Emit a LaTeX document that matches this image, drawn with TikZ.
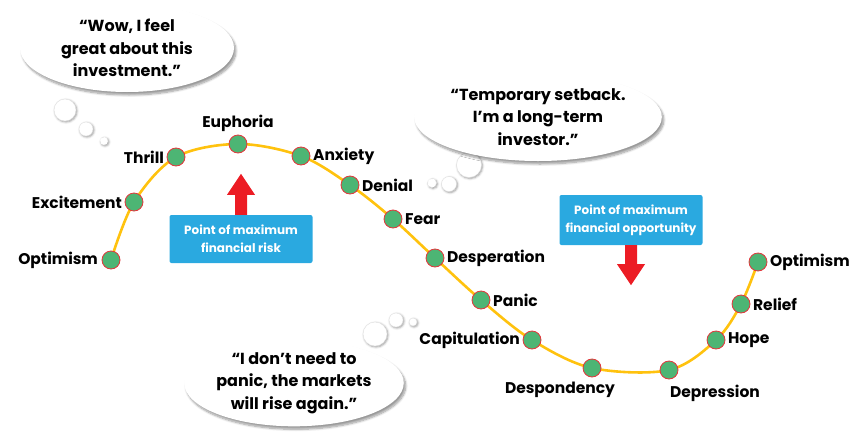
\documentclass[tikz,border=0pt]{standalone}
\usepackage{fontspec}
\setmainfont{Poppins}
\usetikzlibrary{positioning,shapes.geometric,shadows.blur}
\definecolor{curveyellow}{HTML}{FFC20E}
\definecolor{dotgreen}{HTML}{4DB574}
\definecolor{dotred}{HTML}{E5343A}
\definecolor{boxblue}{HTML}{2AA9E0}
\definecolor{arrowred}{HTML}{EC1C24}

\begin{document}
\begin{tikzpicture}[x=1pt,y=-1pt,
    dot/.style = {circle, draw=dotred, line width=0.8pt, fill=dotgreen, minimum size=18pt, inner sep=0pt},
    lbl/.style = {font=\bfseries\fontsize{15.5}{18}\selectfont, inner sep=1.5pt},
    bubble/.style = {ellipse, fill=white, minimum width=214pt, minimum height=88pt, inner sep=0pt,
        align=center, font=\bfseries\fontsize{16}{22.5}\selectfont, blur shadow={shadow blur steps=8, shadow xshift=2pt, shadow yshift=-3pt}},
    puff/.style = {circle, fill=white, draw=black!12, inner sep=0pt, blur shadow={shadow blur steps=4, shadow xshift=1pt, shadow yshift=-1pt}},
    box/.style = {fill=boxblue, rounded corners=2pt, text=white, align=center, minimum width=143pt,
        font=\bfseries\fontsize{12}{18}\selectfont},
    curve/.style = {draw=curveyellow, line width=2.6pt}]

    \useasboundingbox (0,0) rectangle (853,434);

    \foreach \n/\x/\y in {opt/111/260, exc/134/202, thr/176/157, eup/238/144, anx/301/156,
        den/350/185, fea/393/219, des/435/258, pan/481/300, cap/532/340, dsp/592/368,
        dep/669/370, hop/716/340, rel/741/304, opt2/758/262}
        \coordinate (\n) at (\x,\y);

    \draw[curve] plot[smooth, tension=0.55] coordinates {(opt) (exc) (thr) (eup) (anx) (den) (fea)
        (des) (pan) (cap) (dsp) (dep) (hop) (rel) (opt2)};

    \foreach \n in {opt,exc,thr,eup,anx,den,fea,des,pan,cap,dsp,dep,hop,rel,opt2}
        \node[dot] (d\n) at (\n) {};

    \node[lbl, left=2pt of dopt] {Optimism};
    \node[lbl, left=1pt of dexc] {Excitement};
    \node[lbl, left=1pt of dthr] {Thrill};
    \node[lbl, above=1pt of deup] {Euphoria};
    \node[lbl, right=1pt of danx] {Anxiety};
    \node[lbl, right=1pt of dden] {Denial};
    \node[lbl, right=1pt of dfea] {Fear};
    \node[lbl, right=1pt of ddes] {Desperation};
    \node[lbl, right=1pt of dpan] {Panic};
    \node[lbl, left=1pt of dcap] {Capitulation};
    \node[lbl, below=3pt of ddsp, xshift=-32pt] {Despondency};
    \node[lbl, below=4pt of ddep, xshift=46pt] {Depression};
    \node[lbl, right=1pt of dhop] {Hope};
    \node[lbl, right=1pt of drel] {Relief};
    \node[lbl, right=1pt of dopt2] {Optimism};

    % thought bubbles
    \node[puff, minimum size=22pt] (wowa) at (65,110) {};
    \node[puff, minimum size=14pt] (wowb) at (86,129) {};
    \node[puff, minimum size=8pt, dashed] (wowc) at (104,141) {};
    \node[bubble] (wow) at (127,48) {“Wow, I feel\\great about this\\investment.”};

    \node[puff, minimum size=25pt] (tmpa) at (469,165) {};
    \node[puff, minimum size=15pt] (tmpb) at (449,184) {};
    \node[puff, minimum size=9pt, dashed] (tmpc) at (432,183) {};
    \node[bubble] (tmp) at (538,117) {“Temporary setback.\\I’m a long-term\\investor.”};

    \node[puff, minimum size=24pt] (pnca) at (375,334) {};
    \node[puff, minimum size=14pt] (pncb) at (396,320) {};
    \node[puff, minimum size=8pt] (pncc) at (413,322) {};
    \node[bubble, minimum width=206pt, minimum height=86pt] (pnc) at (294,383) {“I don’t need to\\panic, the markets\\will rise again.”};

    % risk and opportunity
    \node[box, minimum height=48pt] (risk) at (241,239) {Point of maximum\\financial risk};
    \node[box, minimum height=50pt] (oppo) at (631,220) {Point of maximum\\financial opportunity};

    \fill[arrowred] (risk.north) ++(-6,0) -- ++(0,-20) -- ++(-8,0) -- ++(14,-21) -- ++(14,21)
        -- ++(-8,0) -- ++(0,20) -- cycle;
    \fill[arrowred] (oppo.south) ++(-6,0) -- ++(0,19) -- ++(-8,0) -- ++(14,21) -- ++(14,-21)
        -- ++(-8,0) -- ++(0,-19) -- cycle;
\end{tikzpicture}
\end{document}
